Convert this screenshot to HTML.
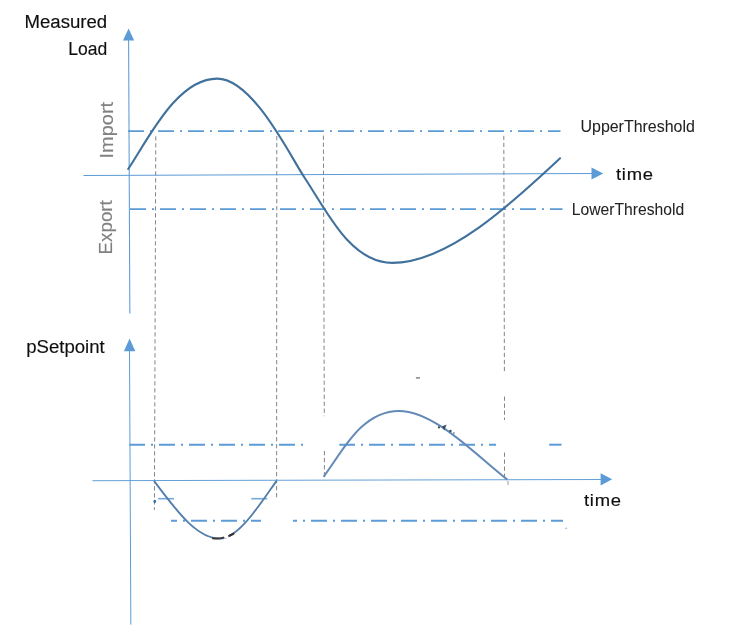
<!DOCTYPE html>
<html><head><meta charset="utf-8"><style>html,body{margin:0;padding:0;background:#fff;width:744px;height:633px;overflow:hidden}svg{display:block}</style></head><body>
<svg width="744" height="633" viewBox="0 0 744 633">
<rect width="744" height="633" fill="#fff"/>
<defs><filter id="b" x="-5%" y="-5%" width="110%" height="110%"><feGaussianBlur stdDeviation="0.45"/></filter></defs>
<g filter="url(#b)">
<g stroke="#858585" stroke-width="1" stroke-dasharray="4.3 2.7" fill="none">
<line x1="155.8" y1="136.2" x2="154.4" y2="510"/>
<line x1="276.8" y1="136" x2="276.6" y2="499"/>
<line x1="323.4" y1="135.6" x2="324.3" y2="416.2"/>
<line x1="324.4" y1="451" x2="324.4" y2="476"/>
<line x1="503.8" y1="135.8" x2="504.4" y2="372"/>
<line x1="504.5" y1="396.5" x2="504.5" y2="420"/>
<line x1="504.5" y1="452.5" x2="504.5" y2="479"/>
</g>
<line x1="128" y1="131.15" x2="560.5" y2="131.15" stroke="#5b9bd5" stroke-width="1.8" stroke-dasharray="16 6 2 6" stroke-dashoffset="0"/>
<line x1="129" y1="209.2" x2="562.5" y2="209.2" stroke="#5b9bd5" stroke-width="1.8" stroke-dasharray="16 6 2 6" stroke-dashoffset="29"/>
<line x1="128.6" y1="38" x2="129.85" y2="313.5" stroke="#5b9bd5" stroke-width="1.05"/>
<polygon points="128.6,28.6 123,40.5 134.2,40.5" fill="#5b9bd5"/>
<line x1="83.5" y1="175.5" x2="593" y2="173.55" stroke="#5b9bd5" stroke-width="1.05"/>
<polygon points="603.2,173.6 591.5,167.6 591.5,179.6" fill="#5b9bd5"/>
<path d="M128.20,169.00 C148.60,138.63 176.99,78.64 217.07,78.64 C252.79,78.64 289.26,154.53 304.60,177.72 C326.95,211.51 350.72,262.86 392.10,262.86 C448.89,262.86 514.68,200.66 560.00,158.30" fill="none" stroke="#41719c" stroke-width="2.1" stroke-linecap="round"/>
<line x1="129.5" y1="444.7" x2="303.2" y2="444.7" stroke="#5b9bd5" stroke-width="2" stroke-dasharray="16 6 2 6" stroke-dashoffset="0.5"/>
<line x1="339.3" y1="444.7" x2="496" y2="444.7" stroke="#5b9bd5" stroke-width="2" stroke-dasharray="16 6 2 6" stroke-dashoffset="0.30000000000001137"/>
<line x1="549.2" y1="444.7" x2="561.5" y2="444.7" stroke="#5b9bd5" stroke-width="2" stroke-dasharray="16 6 2 6" stroke-dashoffset="0.20000000000004547"/>
<line x1="171" y1="520.8" x2="261" y2="520.8" stroke="#5b9bd5" stroke-width="2" stroke-dasharray="16 6 2 6" stroke-dashoffset="10"/>
<line x1="293" y1="520.8" x2="563" y2="520.8" stroke="#5b9bd5" stroke-width="2" stroke-dasharray="16 6 2 6" stroke-dashoffset="12"/>
<line x1="158.2" y1="498.7" x2="174" y2="498.7" stroke="#76a9dc" stroke-width="1.6"/>
<line x1="251.3" y1="498.7" x2="267.3" y2="498.7" stroke="#76a9dc" stroke-width="1.6"/>
<line x1="129.5" y1="350" x2="130.85" y2="624.6" stroke="#5b9bd5" stroke-width="1.0"/>
<polygon points="129.6,338.5 123.9,351.2 135.3,351.2" fill="#5b9bd5"/>
<line x1="92.5" y1="480.7" x2="601" y2="479.5" stroke="#5b9bd5" stroke-width="0.95"/>
<polygon points="612.2,479.3 600.6,473.3 600.6,485.4" fill="#5b9bd5"/>
<path d="M154.00,480.90 C178.58,513.82 197.63,538.65 220.16,538.65 C238.45,538.65 260.26,504.00 276.70,480.60" fill="none" stroke="#557ead" stroke-width="1.85"/>
<path d="M323.60,476.80 C341.97,452.37 361.16,410.93 398.96,410.93 C434.95,410.93 476.23,455.55 507.30,479.60" fill="none" stroke="#6389b6" stroke-width="2.0"/>
<line x1="224" y1="537.2" x2="228.6" y2="536" stroke="#fff" stroke-width="3"/>
<path d="M212.8,538.2 Q218,539.2 223.4,537.6" fill="none" stroke="#3d3d3d" stroke-width="2" stroke-linecap="round"/>
<path d="M229.3,535.7 L233.4,533.7" fill="none" stroke="#333" stroke-width="2.2" stroke-linecap="round"/>
<g fill="#3a4a5c"><circle cx="438.9" cy="427.4" r="1.1"/><polygon points="442,426.5 446.6,424.6 445.4,427.4 444.2,430.6"/><circle cx="450.4" cy="431" r="1.2"/><circle cx="453.9" cy="433" r="0.8"/></g>
<ellipse cx="154.8" cy="501.3" rx="1.3" ry="1.6" fill="#2e6aa8"/>
<rect x="415.9" y="377" width="4.1" height="1.8" fill="#9a9a9a"/>
<rect x="507.3" y="480.8" width="1.5" height="4.2" fill="#bdbdbd"/>
<rect x="565" y="527.7" width="2.2" height="1.3" fill="#a9c9e9"/>
<text transform="translate(24.51,27.7) scale(0.9896,1)" font-family="Liberation Sans, sans-serif" font-size="18.8" fill="#111" stroke="#111" stroke-width="0.15">Measured</text>
<text transform="translate(68.20,54.9) scale(0.9309,1)" font-family="Liberation Sans, sans-serif" font-size="18.8" fill="#111" stroke="#111" stroke-width="0.15">Load</text>
<text transform="translate(113.2,158.60) rotate(-90) scale(1.0658,1)" font-family="Liberation Sans, sans-serif" font-size="18.8" fill="#808080" stroke="#808080" stroke-width="0.15">Import</text>
<text transform="translate(112.2,254.40) rotate(-90) scale(1.0082,1)" font-family="Liberation Sans, sans-serif" font-size="18.6" fill="#808080" stroke="#808080" stroke-width="0.15">Export</text>
<text transform="translate(580.50,132.1) scale(0.9913,1)" font-family="Liberation Sans, sans-serif" font-size="16.1" fill="#222" stroke="#222" stroke-width="0.05">UpperThreshold</text>
<text transform="translate(571.75,215) scale(0.9743,1)" font-family="Liberation Sans, sans-serif" font-size="16.1" fill="#222" stroke="#222" stroke-width="0.05">LowerThreshold</text>
<text transform="translate(615.92,179.9) scale(1.0606,1)" font-family="Liberation Sans, sans-serif" font-size="17.4" fill="#111" stroke="#111" stroke-width="0.15" letter-spacing="0.7">time</text>
<text transform="translate(583.92,505.8) scale(1.0606,1)" font-family="Liberation Sans, sans-serif" font-size="17.4" fill="#111" stroke="#111" stroke-width="0.15" letter-spacing="0.7">time</text>
<text transform="translate(26.19,352.6) scale(0.9690,1)" font-family="Liberation Sans, sans-serif" font-size="19.2" fill="#111" stroke="#111" stroke-width="0.15">pSetpoint</text>
</g>
</svg>
</body></html>
